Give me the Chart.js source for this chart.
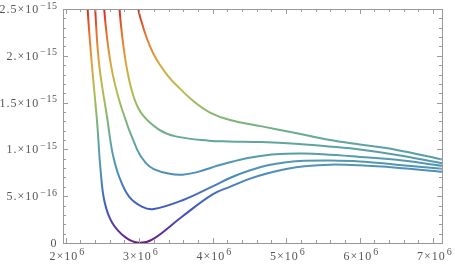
<!DOCTYPE html>
<html>
<head>
<meta charset="utf-8">
<script src="https://cdn.jsdelivr.net/npm/chart.js@4/dist/chart.umd.min.js"></script>
<style>
  html, body { margin: 0; padding: 0; background: #fff; }
  #wrap { width: 455px; height: 267px; }
</style>
</head>
<body>
<div id="wrap"><canvas id="plot"></canvas></div>
<script>
// x in units of 10^6, y in units of 10^-16
const curve1X = [2.26, 2.30, 2.358, 2.43, 2.475, 2.53, 2.634, 2.82, 3.0, 3.176, 3.583, 4.0, 4.25, 4.5, 4.75, 5.0, 5.25, 5.6, 6.0, 6.5, 7.12]
const curve1Y = [32, 25, 19.05, 12.8, 7.9, 4.4, 2.17, 0.57, 0.02, 0.35, 2.81, 5.2, 6.05, 6.85, 7.45, 7.9, 8.2, 8.37, 8.3, 8.05, 7.62]

const curve2X = [2.36, 2.403, 2.457, 2.57, 2.638, 2.729, 2.864, 3.045, 3.2, 3.6, 4.0, 4.25, 4.5, 4.75, 5.0, 5.25, 5.6, 6.0, 6.5, 7.12]
const curve2Y = [32, 25, 19.05, 13.17, 9.65, 7.08, 4.95, 3.85, 3.63, 4.6, 6.05, 7.0, 7.75, 8.3, 8.62, 8.78, 8.82, 8.72, 8.37, 7.94]

const curve3X = [2.48, 2.525, 2.616, 2.756, 2.973, 3.09, 3.2, 3.4, 3.59, 3.8, 4.0, 4.25, 4.5, 4.75, 5.0, 5.25, 5.5, 6.0, 6.5, 7.12]
const curve3Y = [32, 25, 19.05, 14.55, 9.97, 8.55, 7.9, 7.42, 7.30, 7.6, 8.1, 8.65, 9.1, 9.4, 9.53, 9.55, 9.47, 9.2, 8.9, 8.25]

const curve4X = [2.69, 2.729, 2.773, 2.841, 2.932, 3.045, 3.271, 3.498, 3.95, 4.221, 4.669, 5.131, 5.578, 6.026, 6.487, 7.12]
const curve4Y = [32, 25.5, 21.9, 18.33, 15.49, 13.71, 12.11, 11.39, 10.93, 10.85, 10.79, 10.61, 10.32, 9.97, 9.44, 8.52]

const curve5X = [2.95, 2.981, 3.026, 3.104, 3.189, 3.285, 3.394, 3.512, 3.738, 3.965, 4.237, 4.669, 5.131, 5.578, 6.026, 6.487, 7.12]
const curve5Y = [30, 25.43, 23.82, 21.9, 20.3, 19.02, 17.84, 16.83, 15.17, 13.94, 13.14, 12.46, 11.75, 11.04, 10.50, 9.97, 8.93]

// tick labels: mantissa part and raised exponent part
const xTicks = [2, 3, 4, 5, 6, 7]
const xTickMant = ['2×10', '3×10', '4×10', '5×10', '6×10', '7×10']
const xTickExp = ['6', '6', '6', '6', '6', '6']
const yTicks = [0, 5, 10, 15, 20, 25]
const yTickMant = ['0', '5.×10', '1.×10', '1.5×10', '2.×10', '2.5×10']
const yTickExp = ['', '−16', '−15', '−15', '−15', '−15']

const xMin = 1.965, xMax = 7.12
const yMin = 0, yMax = 25

// rainbow stops, bottom (0) to top (1) of the y range
const rainbow = [
    [0.00, '#6b1d86'],
    [0.14, '#4156bd'],
    [0.30, '#4b8fbc'],
    [0.44, '#62a79a'],
    [0.53, '#80b674'],
    [0.65, '#b5bc52'],
    [0.77, '#dba63d'],
    [0.89, '#e5752f'],
    [1.00, '#d82a20']
]

function pair (xs, ys) {
    return xs.map((x, i) => ({ x: x, y: ys[i] }))
}

function rainbowStroke (context) {
    const chart = context.chart
    const y = chart.scales.y
    if (!chart.chartArea || !y) return '#4b8fbc'
    const g = chart.ctx.createLinearGradient(0, y.getPixelForValue(yMin), 0, y.getPixelForValue(yMax))
    rainbow.forEach(s => g.addColorStop(s[0], s[1]))
    return g
}

function line (xs, ys) {
    return {
        data: pair(xs, ys),
        borderColor: rainbowStroke,
        borderWidth: 2,
        pointRadius: 0,
        tension: 0.4,
        fill: false
    }
}

const baseFont = "12px 'Liberation Serif', serif"
const expFont = "10px 'Liberation Serif', serif"

function drawSci (ctx, mant, exp, x, y, align) {
    ctx.font = baseFont
    ctx.letterSpacing = '1px'
    const w1 = ctx.measureText(mant).width
    ctx.font = expFont
    ctx.letterSpacing = '0.5px'
    const w2 = exp ? ctx.measureText(exp).width + 1 : 0
    const total = w1 + w2
    const left = align === 'center' ? x - total / 2 : x - total
    ctx.font = baseFont
    ctx.letterSpacing = '1px'
    ctx.fillText(mant, left, y)
    if (exp) {
        ctx.font = expFont
        ctx.letterSpacing = '0.5px'
        ctx.fillText(exp, left + w1 + 1, y - 4.5)
    }
}

// Mathematica-like frame with inward ticks on all four sides, plus labels
const frame = {
    id: 'frame',
    afterDatasetsDraw (chart) {
        const { ctx, chartArea: a, scales } = chart
        const xs = scales.x, ys = scales.y
        ctx.save()
        ctx.strokeStyle = '#9c9c9c'
        ctx.lineWidth = 1
        ctx.beginPath()
        for (let v = 1.8; v <= 7.2001; v += 0.2) {
            if (v < xMin || v > xMax) continue
            const px = Math.round(xs.getPixelForValue(v)) + 0.5
            const major = Math.abs(v - Math.round(v)) < 1e-6
            const len = major ? 5 : 3
            ctx.moveTo(px, a.bottom); ctx.lineTo(px, a.bottom - len)
            ctx.moveTo(px, a.top); ctx.lineTo(px, a.top + len)
        }
        for (let v = 0; v <= 25.001; v += 1) {
            const py = Math.round(ys.getPixelForValue(v)) + 0.5
            const major = v % 5 === 0
            const len = major ? 5 : 3
            ctx.moveTo(a.left, py); ctx.lineTo(a.left + len, py)
            ctx.moveTo(a.right, py); ctx.lineTo(a.right - len, py)
        }
        ctx.stroke()
        ctx.strokeStyle = '#999999'
        ctx.strokeRect(Math.round(a.left) + 0.5, Math.round(a.top) + 0.5,
            Math.round(a.right - a.left), Math.round(a.bottom - a.top))

        ctx.fillStyle = '#555'
        ctx.textBaseline = 'alphabetic'
        xTicks.forEach((v, i) => {
            drawSci(ctx, xTickMant[i], xTickExp[i], xs.getPixelForValue(v) + 1.5, a.bottom + 16.5, 'center')
        })
        yTicks.forEach((v, i) => {
            drawSci(ctx, yTickMant[i], yTickExp[i], a.left - 5.5, ys.getPixelForValue(v) + 4, 'right')
        })
        ctx.restore()
    }
}

const config = {
    type: 'line',
    data: {
        datasets: [
            line(curve1X, curve1Y),
            line(curve2X, curve2Y),
            line(curve3X, curve3Y),
            line(curve4X, curve4Y),
            line(curve5X, curve5Y)
        ]
    },
    options: {
        responsive: true,
        maintainAspectRatio: false,
        animation: false,
        layout: { padding: { top: 9, right: 13, left: 0, bottom: 0 } },
        plugins: {
            legend: { display: false },
            tooltip: { enabled: false }
        },
        scales: {
            x: {
                type: 'linear',
                min: xMin,
                max: xMax,
                afterBuildTicks: scale => { scale.ticks = xTicks.map(v => ({ value: v })) },
                afterFit: scale => { scale.height = 24 },
                grid: { display: false },
                border: { display: false },
                ticks: { display: false }
            },
            y: {
                type: 'linear',
                min: yMin,
                max: yMax,
                afterBuildTicks: scale => { scale.ticks = yTicks.map(v => ({ value: v })) },
                afterFit: scale => { scale.width = 63 },
                grid: { display: false },
                border: { display: false },
                ticks: { display: false }
            }
        }
    },
    plugins: [frame]
}

const chart = new Chart(document.getElementById('plot'), config)
</script>
</body>
</html>
